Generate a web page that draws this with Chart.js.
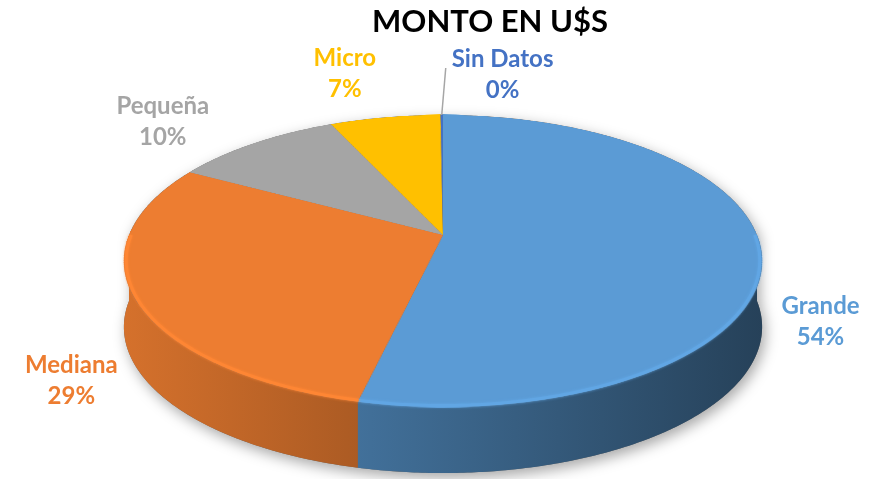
<!DOCTYPE html>
<html>
<head>
<meta charset="utf-8">
<script src="https://cdn.jsdelivr.net/npm/chart.js@4"></script>
<style>
html, body { margin: 0; padding: 0; background: #fff; }
</style>
</head>
<body>
<canvas id="montoChart" width="875" height="479"></canvas>
<script>
let segmentNames = ["Grande", "Mediana", "Pequeña", "Micro", "Sin Datos"];
let segmentValues = [53.6, 29.4, 10.2, 6.65, 0.15];
let segmentColors = ["#5B9BD5", "#ED7D31", "#A5A5A5", "#FFC000", "#4472C4"];

// tilted disc seen in perspective: centre of the disc, half width, half depth, perspective, wall height
const pieLayout = { x0: 443, y0: 235, A: 314, B: 141.4, p: -0.178, depth: 66 };
// ring the data labels sit on
const labelRing = { dx: -13, dy: 31, a: 393, b: 197, lower: 34 };
const labelFont = "bold 24px Lato";
const labelLine = 31;

function shade(hex, f) {
    let n = parseInt(hex.slice(1), 16);
    let r = Math.min(255, Math.round(((n >> 16) & 255) * f));
    let g = Math.min(255, Math.round(((n >> 8) & 255) * f));
    let b = Math.min(255, Math.round((n & 255) * f));
    return "rgb(" + r + "," + g + "," + b + ")";
}

// point of the disc (u, v in -1..1) on screen
function project(u, v, dy) {
    const L = pieLayout;
    let d = 1 + L.p * v;
    return [L.x0 + L.A * u / d, L.y0 + L.B * v / d + (dy || 0)];
}

// front part of a slice, canvas angles in [0, PI]
function frontRange(arc) {
    let s = Math.max(arc.startAngle, 0);
    let e = Math.min(arc.endAngle, Math.PI);
    return e > s ? [s, e] : null;
}

function rimPath(ctx, a, b, r, dy, move) {
    let n = Math.max(2, Math.ceil(Math.abs(b - a) / 0.01));
    for (let k = 0; k <= n; k++) {
        let t = a + (b - a) * k / n;
        let pt = project(r * Math.cos(t), r * Math.sin(t), dy);
        if (k === 0 && move) ctx.moveTo(pt[0], pt[1]); else ctx.lineTo(pt[0], pt[1]);
    }
}

const pie3d = {
    id: "pie3d",
    beforeDatasetsDraw(chart) {
        const ctx = chart.ctx;
        const L = pieLayout;
        const arcs = chart.getDatasetMeta(0).data;
        const ox = arcs[0].x, oy = arcs[0].y, R = arcs[0].outerRadius;

        // soft shadow under the disc
        ctx.save();
        ctx.shadowColor = "rgba(0,0,0,0.35)";
        ctx.shadowBlur = 14;
        ctx.shadowOffsetX = 3;
        ctx.shadowOffsetY = 5;
        ctx.fillStyle = "#666";
        ctx.beginPath();
        rimPath(ctx, 0, Math.PI, 1, L.depth, true);
        rimPath(ctx, Math.PI, 2 * Math.PI, 1, 0, false);
        ctx.closePath();
        ctx.fill();
        ctx.restore();

        // side walls
        let left = project(-1.02, 0)[0], right = project(1.02, 0)[0];
        arcs.forEach((arc, i) => {
            let rng = frontRange(arc);
            if (!rng) return;
            let grad = ctx.createLinearGradient(left, 0, right, 0);
            grad.addColorStop(0, shade(segmentColors[i], 0.9));
            grad.addColorStop(1, shade(segmentColors[i], 0.42));
            ctx.fillStyle = grad;
            ctx.beginPath();
            rimPath(ctx, rng[0], rng[1], 1, 0, true);
            rimPath(ctx, rng[1], rng[0], 1, L.depth, false);
            ctx.closePath();
            ctx.fill();
        });

        // top face: the library's arcs drawn flat, then laid back row by row
        const Rd = 360;
        const off = document.createElement("canvas");
        off.width = 2 * Rd;
        off.height = 2 * Rd;
        const octx = off.getContext("2d");
        octx.translate(Rd, Rd);
        octx.scale(Rd / R, Rd / R);
        octx.translate(-ox, -oy);
        arcs.forEach(arc => arc.draw(octx));

        const vOf = Y => (Y - L.y0) / (L.B - L.p * (Y - L.y0));
        let yTop = Math.floor(project(0, -1)[1]), yBot = Math.ceil(project(0, 1)[1]);
        for (let Y = yTop; Y < yBot; Y++) {
            let v0 = Math.max(-1, vOf(Y)), v1 = Math.min(1, vOf(Y + 1));
            if (v1 <= v0) continue;
            let vm = (v0 + v1) / 2;
            let k = L.A / (1 + L.p * vm);
            ctx.drawImage(off, 0, (v0 + 1) * Rd, 2 * Rd, (v1 - v0) * Rd, L.x0 - k, Y, 2 * k, 1);
        }

        // light bevel on the front rim
        arcs.forEach((arc, i) => {
            let rng = frontRange(arc);
            if (!rng) return;
            ctx.save();
            ctx.strokeStyle = shade(segmentColors[i], 1.07);
            ctx.lineWidth = 3;
            ctx.shadowColor = shade(segmentColors[i], 1.07);
            ctx.shadowBlur = 3;
            ctx.beginPath();
            rimPath(ctx, rng[0], rng[1], 0.993, 0, true);
            ctx.stroke();
            ctx.restore();
        });
        return false;
    },
    afterDraw(chart) {
        const ctx = chart.ctx;
        const L = pieLayout;
        const arcs = chart.getDatasetMeta(0).data;
        const total = segmentValues.reduce((a, b) => a + b, 0);

        ctx.save();
        ctx.font = labelFont;
        ctx.textAlign = "center";
        ctx.textBaseline = "middle";
        arcs.forEach((arc, i) => {
            let mid = (arc.startAngle + arc.endAngle) / 2;
            let c = Math.cos(mid), s = Math.sin(mid);
            let pct = Math.round(segmentValues[i] / total * 100) + "%";
            let w = Math.max(ctx.measureText(segmentNames[i]).width, ctx.measureText(pct).width);
            let x, y;
            if (segmentValues[i] / total < 0.01) {
                // tiny slice: label pushed aside with a leader line
                let pt = project(c, s);
                let ex = pt[0] + 4, ey = pt[1] - 47;
                ctx.strokeStyle = "#A6A6A6";
                ctx.lineWidth = 1.5;
                ctx.beginPath();
                ctx.moveTo(pt[0], pt[1]);
                ctx.lineTo(ex, ey);
                ctx.stroke();
                x = ex + 6 + w / 2;
                y = ey + 7;
            } else {
                x = L.x0 + labelRing.dx + labelRing.a * c;
                y = L.y0 + labelRing.dy + labelRing.b * s + (s > 0 ? labelRing.lower : 0);
            }
            ctx.fillStyle = segmentColors[i];
            ctx.fillText(segmentNames[i], x, y - labelLine / 2);
            ctx.fillText(pct, x, y + labelLine / 2);
        });
        ctx.restore();
    }
};

new Chart("montoChart", {
    type: "pie",
    data: {
        labels: segmentNames,
        datasets: [{
            data: segmentValues,
            backgroundColor: segmentColors,
            borderWidth: 0
        }]
    },
    options: {
        responsive: false,
        animation: false,
        devicePixelRatio: 1,
        layout: {
            padding: { left: 105 }
        },
        plugins: {
            legend: { display: false },
            tooltip: { enabled: false },
            title: {
                display: true,
                text: "MONTO EN U$S",
                color: "#000",
                font: { family: "Lato", size: 31, weight: "bold" },
                padding: { top: 3, bottom: 10 }
            }
        }
    },
    plugins: [pie3d]
});
</script>
</body>
</html>
